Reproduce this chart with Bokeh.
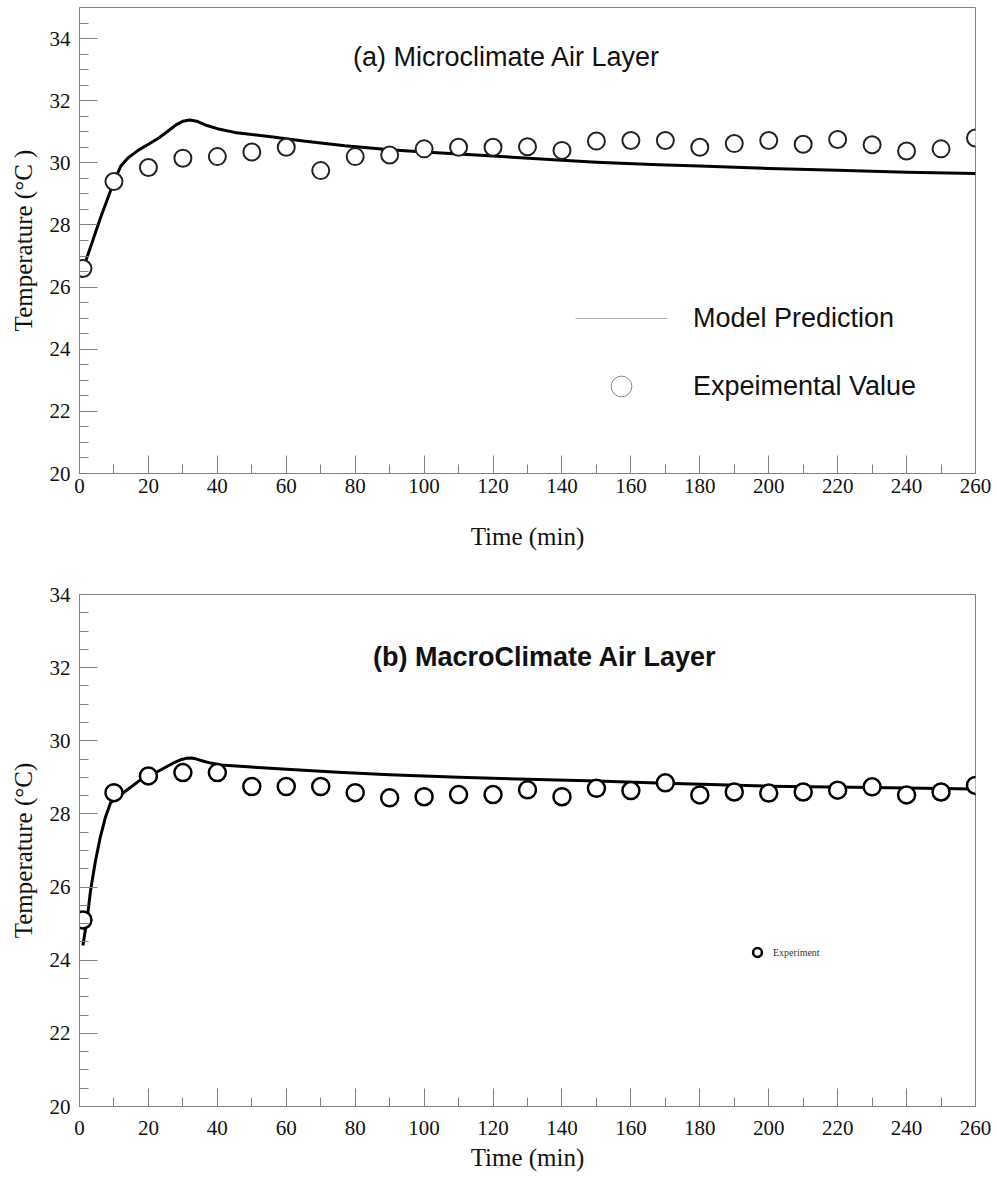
from bokeh.plotting import figure
from bokeh.layouts import column
from bokeh.models import FixedTicker, Label, Legend, LegendItem
from bokeh.embed import file_html
from bokeh.resources import INLINE

# ---------------- data ----------------
t_exp = [1, 10, 20, 30, 40, 50, 60, 70, 80, 90, 100, 110, 120, 130, 140,
         150, 160, 170, 180, 190, 200, 210, 220, 230, 240, 250, 260]

micro_exp = [26.6, 29.4, 29.85, 30.15, 30.2, 30.35, 30.5, 29.75, 30.2, 30.25,
             30.45, 30.5, 30.5, 30.52, 30.4, 30.7, 30.72, 30.72, 30.5, 30.62,
             30.72, 30.6, 30.75, 30.58, 30.38, 30.45, 30.8]

t_model_micro = [1, 2, 6, 10, 12, 14, 17, 20, 23, 26, 28, 30, 32, 34, 37, 40,
                 45, 55, 65, 77, 90, 100, 120, 140, 150, 168, 180, 200, 220,
                 240, 260]
micro_model = [26.6, 26.9, 28.2, 29.4, 29.9, 30.15, 30.4, 30.6, 30.8, 31.05,
               31.22, 31.34, 31.38, 31.34, 31.2, 31.1, 30.98, 30.85, 30.7,
               30.55, 30.42, 30.35, 30.22, 30.08, 30.02, 29.94, 29.9, 29.82,
               29.76, 29.7, 29.66]

macro_exp = [25.1, 28.58, 29.04, 29.13, 29.13, 28.75, 28.75, 28.75, 28.58, 28.44,
             28.47, 28.53, 28.53, 28.66, 28.47, 28.7, 28.64, 28.85, 28.52, 28.6,
             28.57, 28.6, 28.65, 28.74, 28.52, 28.6, 28.78]

t_model_macro = [1, 2.3, 3.2, 4.6, 6, 7.5, 9, 11, 13, 17.7, 20, 23.5, 27, 29.3,
                 31, 32.5, 34, 36, 38, 41, 50, 60, 75, 90, 110, 130, 150, 170,
                 200, 230, 260]
macro_model = [24.4, 25.2, 25.9, 26.7, 27.35, 27.9, 28.3, 28.47, 28.6, 28.93,
               29.02, 29.2, 29.38, 29.48, 29.52, 29.53, 29.5, 29.44, 29.39,
               29.34, 29.28, 29.22, 29.14, 29.07, 29.0, 28.95, 28.9, 28.84,
               28.76, 28.72, 28.68]

x_ticks = list(range(0, 261, 20))
x_minor = list(range(0, 261, 10))
y_ticks = [20, 22, 24, 26, 28, 30, 32, 34]
y_minor = [20 + 0.5 * i for i in range(0, 30)]

NAN = float("nan")
GRAY = "#808080"
SERIF = "Liberation Serif"
SANS = "Liberation Sans"


def style(p, ylabel, xstand, xlab_stand):
    p.xgrid.visible = False
    p.ygrid.visible = False
    p.outline_line_color = GRAY
    p.outline_line_width = 1
    p.xaxis.ticker = FixedTicker(ticks=x_ticks, minor_ticks=x_minor)
    p.yaxis.ticker = FixedTicker(ticks=y_ticks, minor_ticks=y_minor)
    for ax in (p.xaxis[0], p.yaxis[0]):
        ax.axis_line_color = GRAY
        ax.major_tick_line_color = GRAY
        ax.minor_tick_line_color = GRAY
        ax.major_tick_in = 18
        ax.major_tick_out = 0
        ax.minor_tick_in = 9
        ax.minor_tick_out = 0
        ax.major_label_text_font = SERIF
        ax.major_label_text_font_size = "21px"
        ax.major_label_text_color = "#111111"
        ax.axis_label_text_font = SERIF
        ax.axis_label_text_font_style = "normal"
        ax.axis_label_text_font_size = "25px"
        ax.axis_label_text_color = "#111111"
    p.xaxis.axis_label = "Time (min)"
    p.yaxis.axis_label = ylabel
    p.xaxis.major_label_standoff = xstand
    p.yaxis.major_label_standoff = 9
    p.xaxis.axis_label_standoff = xlab_stand
    p.yaxis.axis_label_standoff = 10


# ---------------- top panel ----------------
p1 = figure(width=997, height=554, x_range=(0, 260), y_range=(20, 35),
            output_backend="svg", toolbar_location=None,
            min_border_left=79, min_border_right=22, min_border_top=7,
            min_border_bottom=81)
style(p1, "Temperature (°C )", 5, 27)

p1.line(t_model_micro, micro_model, line_color="black", line_width=3,
        line_join="round")
p1.scatter(t_exp, micro_exp, marker="circle", size=17, fill_color="white",
           line_color="#222222", line_width=2)

p1.add_layout(Label(x=124, y=33.4, text="(a) Microclimate Air Layer",
                    text_align="center", text_baseline="middle",
                    text_font=SANS, text_font_size="27px", text_color="#111111"))

leg_line = p1.line(x=[NAN], y=[NAN], line_color="#b0b0b0", line_width=1)
leg_circ = p1.scatter(x=[NAN], y=[NAN], marker="circle", size=20, fill_color="white",
                      line_color="#888888", line_width=1)
leg1 = Legend(items=[LegendItem(label="Model Prediction", renderers=[leg_line]),
                     LegendItem(label="Expeimental Value", renderers=[leg_circ])],
              location=(496, 61), glyph_width=92, glyph_height=52,
              label_height=52, label_standoff=26, spacing=16, padding=0, margin=0,
              border_line_alpha=0, background_fill_alpha=0,
              label_text_font=SANS, label_text_font_size="27px",
              label_text_color="#111111")
p1.add_layout(leg1)

# ---------------- bottom panel ----------------
p2 = figure(width=997, height=626, x_range=(0, 260), y_range=(20, 34),
            output_backend="svg", toolbar_location=None,
            min_border_left=79, min_border_right=22, min_border_top=40,
            min_border_bottom=74)
style(p2, "Temperature (°C)", 14, 6)

p2.line(t_model_macro, macro_model, line_color="black", line_width=3,
        line_join="round")
p2.scatter(t_exp, macro_exp, marker="circle", size=17, fill_color="white",
           line_color="black", line_width=2.5)

p2.add_layout(Label(x=135, y=32.3, text="(b) MacroClimate Air Layer",
                    text_align="center", text_baseline="middle",
                    text_font=SANS, text_font_style="bold",
                    text_font_size="27px", text_color="#111111"))

leg_circ2 = p2.scatter(x=[NAN], y=[NAN], marker="circle", size=9, fill_color="white",
                       line_color="black", line_width=2.5)
leg2 = Legend(items=[LegendItem(label="Experiment", renderers=[leg_circ2])],
              location=(667, 143), glyph_width=22, glyph_height=22,
              label_height=22, label_standoff=5, padding=0, margin=0,
              border_line_alpha=0, background_fill_alpha=0,
              label_text_font=SERIF, label_text_font_size="10px",
              label_text_color="#333333")
p2.add_layout(leg2)

layout = column(p1, p2, spacing=0)
open("out.html", "w").write(file_html(layout, INLINE))
